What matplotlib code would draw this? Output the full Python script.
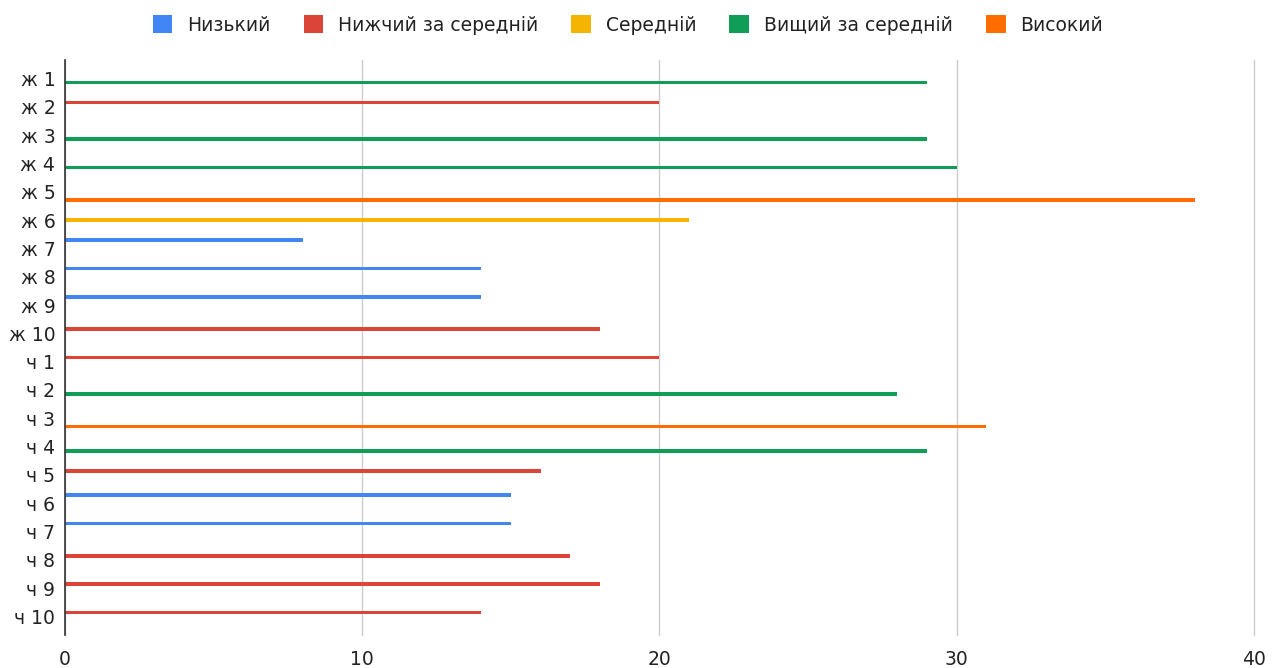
import numpy as np
import matplotlib.pyplot as plt
from matplotlib.patches import Patch

plt.rcParams['font.family'] = ['DejaVu Sans']

levels = ['Низький', 'Нижчий за середній', 'Середній', 'Вищий за середній', 'Високий']
level_colors = ['#4285F4', '#DB4437', '#F4B400', '#0F9D58', '#FF6D01']

categories = ['ж 1', 'ж 2', 'ж 3', 'ж 4', 'ж 5', 'ж 6', 'ж 7', 'ж 8', 'ж 9', 'ж 10',
              'ч 1', 'ч 2', 'ч 3', 'ч 4', 'ч 5', 'ч 6', 'ч 7', 'ч 8', 'ч 9', 'ч 10']
scores = [29, 20, 29, 30, 38, 21, 8, 14, 14, 18,
          20, 28, 31, 29, 16, 15, 15, 17, 18, 14]
# index into levels for every person
score_level = [3, 1, 3, 3, 4, 2, 0, 0, 0, 1,
               1, 3, 4, 3, 1, 0, 0, 1, 1, 1]

W, H = 1274, 668
fig = plt.figure(figsize=(W / 100, H / 100), dpi=100)
ax = fig.add_axes([65 / W, (H - 635) / H, (1254 - 65) / W, (635 - 60) / H])

y = np.arange(len(categories))
step = 0.145
for i, (name, color) in enumerate(zip(levels, level_colors)):
    vals = [s if lv == i else 0 for s, lv in zip(scores, score_level)]
    ax.barh(y + (i - 2) * step, vals, height=0.125, color=color, linewidth=0)

ax.set_xlim(0, 40)
ax.set_ylim(19.65, -0.65)
ax.set_xticks([0, 10, 20, 30, 40])
ax.set_yticks(y)
ax.set_yticklabels(categories)
ax.tick_params(length=0, labelsize=13.5, colors='#222222')
ax.tick_params(axis='x', pad=11)
ax.tick_params(axis='y', pad=7)

ax.grid(axis='x', color='#cccccc', linewidth=1)
for gl in ax.get_xgridlines():
    gl.set_clip_on(False)
ax.set_axisbelow(True)
for side in ['top', 'right', 'bottom']:
    ax.spines[side].set_visible(False)
ax.spines['left'].set_color('#333333')
ax.spines['left'].set_linewidth(1.2)

handles = [Patch(facecolor=c, edgecolor='none') for c in level_colors]
fig.legend(handles, levels, loc='center', bbox_to_anchor=(628 / W, 1 - 25 / H),
           ncol=5, frameon=False, fontsize=13.5, handlelength=1.05, handleheight=1.05,
           handletextpad=0.8, columnspacing=1.75, labelcolor='#222222',
           borderaxespad=0, borderpad=0)

fig.savefig('out.png', dpi=100)
